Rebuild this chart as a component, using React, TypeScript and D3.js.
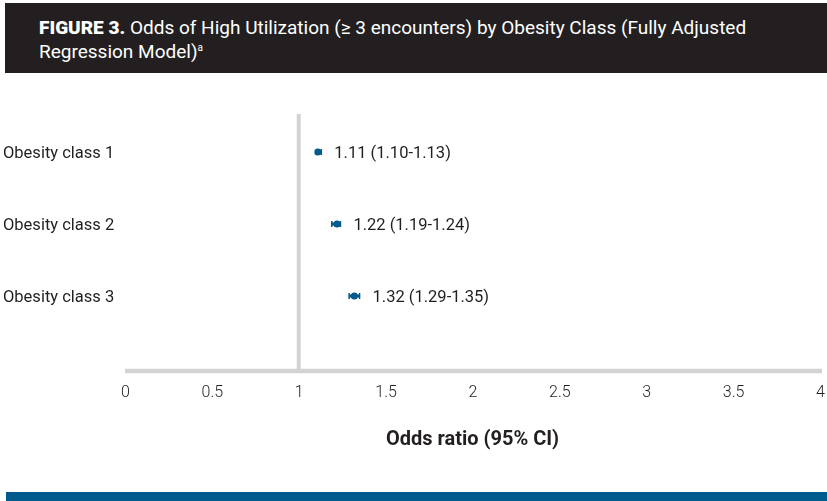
import React, { useEffect, useRef } from 'react';
import * as d3 from "d3";

// chart data
const categories = ["Obesity class 1", "Obesity class 2", "Obesity class 3"];
const oddsRatio = [1.11, 1.22, 1.32];
const ciLow = [1.10, 1.19, 1.29];
const ciHigh = [1.13, 1.24, 1.35];
const ciLabels = ["1.11 (1.10-1.13)", "1.22 (1.19-1.24)", "1.32 (1.29-1.35)"];
const xTicks = [0, 0.5, 1, 1.5, 2, 2.5, 3, 3.5, 4];

const FONT = "Roboto, 'Noto Sans', sans-serif";
const INK = "#231f20";
const BLUE = "#005a8c";
const GRID = "#d1d3d4";

export default function App() {
  const ref = useRef<SVGSVGElement>(null);

  useEffect(() => {
    if (ref.current == null) return;
    const width = 827, height = 501;
    const svg = d3.select(ref.current);
    svg.selectAll("*").remove();
    svg.attr("width", width).attr("height", height);

    // header box
    svg.append("rect")
      .attr("x", 5).attr("y", 3)
      .attr("width", width - 5).attr("height", 70)
      .attr("fill", INK);

    const title = svg.append("text")
      .attr("font-family", FONT)
      .attr("font-size", 19)
      .attr("fill", "#fff");
    const line1 = title.append("tspan").attr("x", 39).attr("y", 34);
    line1.append("tspan").attr("font-weight", "900").text("FIGURE 3.");
    line1.append("tspan").text(" Odds of High Utilization (≥ 3 encounters) by Obesity Class (Fully Adjusted");
    const line2 = title.append("tspan").attr("x", 39).attr("y", 58);
    line2.append("tspan").text("Regression Model)");
    line2.append("tspan").attr("font-size", 10).attr("dy", -7).text("a");

    // scales
    const x = d3.scaleLinear().domain([0, 4]).range([125, 820]);
    const y = d3.scalePoint<string>().domain(categories).range([152, 296]);
    const axisY = 371;

    // reference line at OR = 1
    svg.append("line")
      .attr("x1", x(1)).attr("x2", x(1))
      .attr("y1", 114).attr("y2", axisY)
      .attr("stroke", GRID).attr("stroke-width", 4);

    // x axis
    const xAxis = svg.append("g")
      .attr("transform", "translate(0," + axisY + ")")
      .call(d3.axisBottom(x).tickValues(xTicks).tickSize(0).tickPadding(15)
        .tickFormat(d => String(d)));
    xAxis.select(".domain")
      .attr("d", `M${x(0)},0H${x(4) + 2}`)
      .attr("stroke", GRID).attr("stroke-width", 4.5);
    xAxis.selectAll("text")
      .attr("font-family", FONT)
      .attr("font-size", 16)
      .attr("font-weight", "300")
      .attr("fill", INK);

    svg.append("text")
      .attr("x", x(2)).attr("y", 445)
      .attr("text-anchor", "middle")
      .attr("font-family", FONT)
      .attr("font-size", 20)
      .attr("font-weight", "bold")
      .attr("fill", INK)
      .text("Odds ratio (95% CI)");

    // category labels
    svg.append("g").selectAll("text")
      .data(categories)
      .join("text")
      .attr("x", 3)
      .attr("y", d => y(d) as number)
      .attr("dy", "0.35em")
      .attr("font-family", FONT)
      .attr("font-size", 16.5)
      .attr("fill", INK)
      .text(d => d);

    // estimates with CI
    const rows = svg.append("g").selectAll("g")
      .data(categories)
      .join("g")
      .attr("transform", d => "translate(0," + y(d) + ")");

    rows.append("line")
      .attr("x1", (d, i) => x(ciLow[i])).attr("x2", (d, i) => x(ciHigh[i]))
      .attr("stroke", BLUE).attr("stroke-width", 3);
    rows.append("line")
      .attr("x1", (d, i) => x(ciLow[i])).attr("x2", (d, i) => x(ciLow[i]))
      .attr("y1", -3).attr("y2", 3)
      .attr("stroke", BLUE).attr("stroke-width", 1.5);
    rows.append("line")
      .attr("x1", (d, i) => x(ciHigh[i])).attr("x2", (d, i) => x(ciHigh[i]))
      .attr("y1", -3).attr("y2", 3)
      .attr("stroke", BLUE).attr("stroke-width", 1.5);
    rows.append("circle")
      .attr("cx", (d, i) => x(oddsRatio[i]))
      .attr("r", 3.5)
      .attr("fill", BLUE);
    rows.append("text")
      .attr("x", (d, i) => x(ciHigh[i]) + 13)
      .attr("dy", "0.35em")
      .attr("font-family", FONT)
      .attr("font-size", 16.5)
      .attr("fill", INK)
      .text((d, i) => ciLabels[i]);

    // bottom rule
    svg.append("rect")
      .attr("x", 6).attr("y", 492)
      .attr("width", width - 6).attr("height", 9)
      .attr("fill", BLUE);
  }, []);

  return (
    <svg ref={ref} style={{ position: "fixed", left: 0, top: 0 }}></svg>
  );
}
